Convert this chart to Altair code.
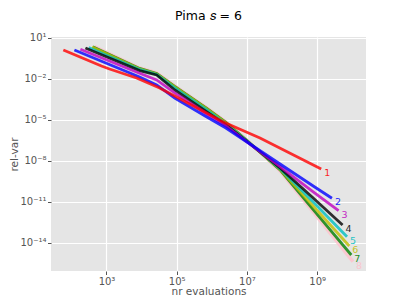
import altair as alt
import pandas as pd

# series names, colours (matplotlib r, b, m, k, c, y, g, pink)
series = ["1", "2", "3", "4", "5", "6", "7", "8"]
colors = ["#ff0000", "#0000ff", "#bf00bf", "#000000", "#00bfbf", "#bfbf00", "#008000", "#ffc0cb"]

# log10 of number of evaluations
log_evals_1 = [1.771, 2.857, 3.086, 3.857, 4.514, 6.314, 7.371, 9.114]
grid_mid = [3.943, 4.429, 4.943, 5.857, 6.4, 7.0, 7.943, 8.886]
log_evals_2 = [2.086] + grid_mid + [9.42]
log_evals_3 = [2.257] + grid_mid + [9.609]
log_evals_4 = [2.4] + grid_mid + [9.723]
log_evals_5 = [2.494] + grid_mid + [9.849]
log_evals_6 = [2.591] + grid_mid + [9.914]
log_evals_7 = [2.609] + grid_mid + [9.971]
log_evals_8 = [2.657] + grid_mid + [10.02]

# log10 of rel-var
log_rv_1 = [0.122, -1.049, -1.268, -1.927, -2.658, -5.124, -6.317, -8.585]
log_rv_2 = [0.122, -1.854, -2.439, -3.39, -4.78, -5.585, -6.61, -8.22, -9.829, -10.729]
log_rv_3 = [0.173, -1.583, -2.073, -3.024, -4.561, -5.439, -6.61, -8.417, -10.268, -11.637]
log_rv_4 = [0.268, -1.393, -1.707, -2.805, -4.415, -5.366, -6.573, -8.512, -10.707, -12.683]
log_rv_5 = [0.29, -1.305, -1.671, -2.658, -4.268, -5.293, -6.536, -8.564, -11.0, -13.539]
log_rv_6 = [0.341, -1.268, -1.634, -2.585, -4.195, -5.219, -6.536, -8.607, -11.293, -14.219]
log_rv_7 = [0.363, -1.232, -1.598, -2.549, -4.158, -5.183, -6.5, -8.658, -11.556, -14.878]
log_rv_8 = [0.363, -1.195, -1.561, -2.512, -4.122, -5.146, -6.463, -8.731, -11.731, -15.368]

xs = [log_evals_1, log_evals_2, log_evals_3, log_evals_4, log_evals_5, log_evals_6, log_evals_7, log_evals_8]
ys = [log_rv_1, log_rv_2, log_rv_3, log_rv_4, log_rv_5, log_rv_6, log_rv_7, log_rv_8]

x_ticks = [3, 5, 7, 9]
y_ticks = [1, -2, -5, -8, -11, -14]

rows = []
for s, lx, ly in zip(series, xs, ys):
    for i, (a, b) in enumerate(zip(lx, ly)):
        rows.append({"series": s, "order": i, "evals": 10 ** a, "relvar": 10 ** b})
df = pd.DataFrame(rows)
ends = df.groupby("series").tail(1)

sup = str.maketrans("-0123456789", "⁻⁰¹²³⁴⁵⁶⁷⁸⁹")


def label_expr(exps):
    parts = [f"round(log(datum.value)/LN10) == {e} ? '10{str(e).translate(sup)}'" for e in exps]
    return " : ".join(parts) + " : ''"


xscale = alt.Scale(type="log", domain=[10 ** 1.42, 10 ** 10.39], nice=False)
yscale = alt.Scale(type="log", domain=[10 ** -16.05, 10 ** 1.07], nice=False)

xenc = alt.X("evals:Q", scale=xscale,
             axis=alt.Axis(values=[10 ** e for e in x_ticks], labelExpr=label_expr(x_ticks),
                           title="nr evaluations", titleY=20.5, titleBaseline="middle"))
yenc = alt.Y("relvar:Q", scale=yscale,
             axis=alt.Axis(values=[10 ** e for e in y_ticks], labelExpr=label_expr(y_ticks),
                           title="rel-var", titleX=-37, titleY=117, titleBaseline="middle",
                           titleAngle=-90, titleAlign="center"))
cenc = alt.Color("series:N", scale=alt.Scale(domain=series, range=colors), legend=None)

layers = []
for s in reversed(series):
    sub = df[df["series"] == s]
    w = 3.5 if s == "8" else 2.8
    layers.append(
        alt.Chart(sub).mark_line(strokeWidth=w, opacity=0.8, clip=True)
        .encode(x=xenc, y=yenc, color=cenc, order="order:Q")
    )

texts = alt.Chart(ends).mark_text(align="left", baseline="middle", dx=3, dy=4,
                                  fontSize=9.5, font="DejaVu Sans", opacity=0.85).encode(
    x=xenc, y=yenc, text="series:N", color=cenc)

chart = alt.layer(*layers, texts).properties(
    width=315, height=234,
    title=alt.TitleParams("Pima 𝑠 = 6", fontSize=12.5, font="DejaVu Sans", fontWeight="normal",
                          color="black", offset=10, anchor="middle"),
    autosize=alt.AutoSizeParams(type="none"),
    padding={"left": 43, "top": 29, "right": 25, "bottom": 26},
).configure_view(fill="#E5E5E5", stroke=None).configure_axis(
    domain=False, grid=True, gridColor="white", gridWidth=1.2,
    tickColor="#555555", tickSize=3.5, labelColor="#555555", labelFontSize=10,
    labelFont="DejaVu Sans", labelPadding=1.5, titleFont="DejaVu Sans", titleFontSize=10.5,
    titleColor="#555555", titleFontWeight="normal",
)

chart.save("out.html", embed_options={"renderer": "svg", "actions": False})
